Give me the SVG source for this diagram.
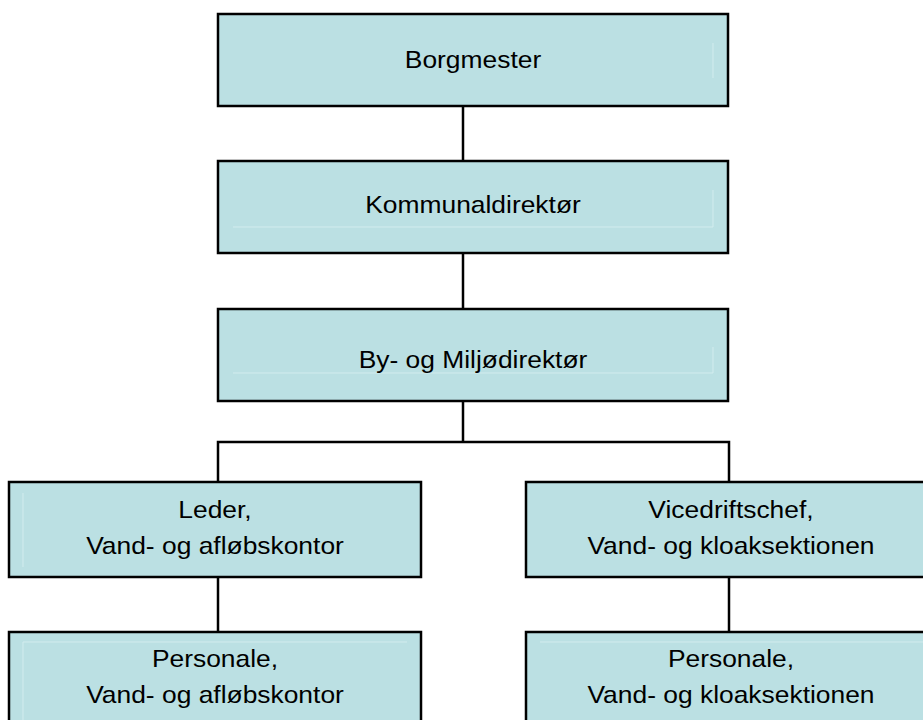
<svg xmlns="http://www.w3.org/2000/svg" width="923" height="720" viewBox="0 0 923 720">
  <style>
    .box { fill: #BBE0E3; stroke: #000; stroke-width: 2.5; }
    .edge { fill: none; stroke: #000; stroke-width: 2.5; }
    .frame { fill: none; stroke: #D2ECEE; stroke-width: 1; }
    .lbl { font-family: "Liberation Sans", Arial, sans-serif; font-size: 24px; fill: #000; text-anchor: middle; }
  </style>
  <rect width="923" height="720" fill="#fff"/>

  <!-- connectors -->
  <g id="connectors">
    <line class="edge" x1="463" y1="106" x2="463" y2="161"/>
    <line class="edge" x1="463" y1="253" x2="463" y2="309"/>
    <line class="edge" x1="463" y1="401" x2="463" y2="442"/>
    <polyline class="edge" points="218,482 218,442 729,442 729,482"/>
    <line class="edge" x1="218" y1="577" x2="218" y2="632"/>
    <line class="edge" x1="729" y1="577" x2="729" y2="632"/>
  </g>

  <g id="borgmester">
    <rect class="box" x="218" y="14" width="510" height="92"/>
    <line class="frame" x1="713" y1="43" x2="713" y2="78"/>
    <text class="lbl" transform="translate(473 68) scale(1.1 1)">Borgmester</text>
  </g>

  <g id="kommunaldirektor">
    <rect class="box" x="218" y="161" width="510" height="92"/>
    <polyline class="frame" points="233,227 713,227 713,190"/>
    <text class="lbl" transform="translate(473 213) scale(1.1 1)">Kommunaldirektør</text>
  </g>

  <g id="by-miljodirektor">
    <rect class="box" x="218" y="309" width="510" height="92"/>
    <polyline class="frame" points="233,373 713,373 713,347"/>
    <text class="lbl" transform="translate(473 368) scale(1.1 1)">By- og Miljødirektør</text>
  </g>

  <g id="leder">
    <rect class="box" x="9" y="482" width="412" height="95"/>
    <line class="frame" x1="23" y1="493" x2="23" y2="567"/>
    <text class="lbl" transform="translate(215 518) scale(1.1 1)">Leder,</text>
    <text class="lbl" transform="translate(215 554) scale(1.1 1)">Vand- og afløbskontor</text>
  </g>

  <g id="vicedriftschef">
    <rect class="box" x="526" y="482" width="410" height="95"/>
    <text class="lbl" transform="translate(731 518) scale(1.1 1)">Vicedriftschef,</text>
    <text class="lbl" transform="translate(731 554) scale(1.1 1)">Vand- og kloaksektionen</text>
  </g>

  <g id="personale-afloeb">
    <rect class="box" x="9" y="632" width="412" height="100"/>
    <polyline class="frame" points="23,720 23,642 407,642"/>
    <text class="lbl" transform="translate(215 667) scale(1.1 1)">Personale,</text>
    <text class="lbl" transform="translate(215 703) scale(1.1 1)">Vand- og afløbskontor</text>
  </g>

  <g id="personale-kloak">
    <rect class="box" x="526" y="632" width="410" height="100"/>
    <line class="frame" x1="540" y1="642" x2="923" y2="642"/>
    <text class="lbl" transform="translate(731 667) scale(1.1 1)">Personale,</text>
    <text class="lbl" transform="translate(731 703) scale(1.1 1)">Vand- og kloaksektionen</text>
  </g>
</svg>
